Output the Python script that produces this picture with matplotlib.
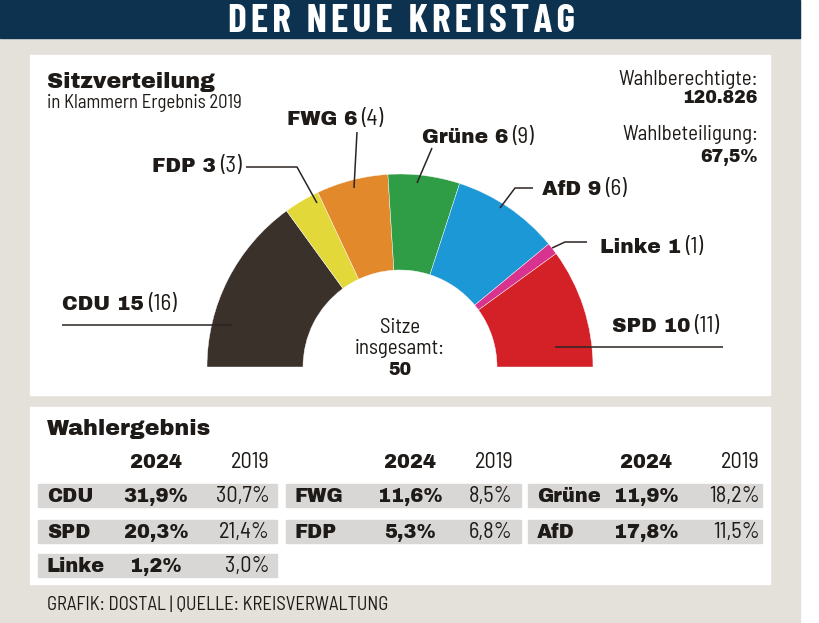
import matplotlib
matplotlib.use("Agg")
import matplotlib.pyplot as plt
from matplotlib.patches import Wedge, Rectangle

# Sitzverteilung (von links nach rechts)
parties = ["CDU", "FDP", "FWG", "Grüne", "AfD", "Linke", "SPD"]
seats_2024 = [15, 3, 6, 6, 9, 1, 10]
seats_2019 = [16, 3, 4, 9, 6, 1, 11]
colors = ["#3b312b", "#e2d83a", "#e2892b", "#2f9d46", "#1b98d5", "#d8338f", "#d42128"]

# Wahlergebnis, drei Spaltengruppen
groups = [["CDU", "SPD", "Linke"], ["FWG", "FDP"], ["Grüne", "AfD"]]
result_2024 = {"CDU": 31.9, "SPD": 20.3, "Linke": 1.2, "FWG": 11.6, "FDP": 5.3, "Grüne": 11.9, "AfD": 17.8}
result_2019 = {"CDU": 30.7, "SPD": 21.4, "Linke": 3.0, "FWG": 8.5, "FDP": 6.8, "Grüne": 18.2, "AfD": 11.5}

eligible = "120.826"
turnout = "67,5%"

HEAVY = dict(family=["Archivo Black", "Lato", "DejaVu Sans"], weight="black")
REG = dict(family=["Barlow Semi Condensed", "PT Sans Narrow", "DejaVu Sans"])
HEAD = dict(family=["Barlow Condensed", "DejaVu Sans"], weight="bold")
INK = "#1e1a17"

W, H = 819, 623
fig = plt.figure(figsize=(W / 100, H / 100), dpi=100)
ax = fig.add_axes([0, 0, 1, 1])
ax.set_xlim(0, W)
ax.set_ylim(H, 0)
ax.axis("off")
renderer = fig.canvas.get_renderer()

# backgrounds
ax.add_patch(Rectangle((0, 0), 800, H, color="#e4e1db", zorder=0))
ax.add_patch(Rectangle((0, 0), 800, 38, color="#0c3250", zorder=1))
ax.add_patch(Rectangle((30, 55), 740, 340, color="white", zorder=1))
ax.add_patch(Rectangle((30, 407), 740, 177, color="white", zorder=1))

title = "\u200a".join("DER NEUE KREISTAG").replace("\u200a \u200a", "  ")
ax.text(401, 32, title, color="white", fontsize=28.5, ha="center", va="baseline", **HEAD)

ax.text(47, 88, "Sitzverteilung", fontsize=16, color=INK, **HEAVY)
ax.text(47, 108, "in Klammern Ergebnis 2019", fontsize=13.5, color=INK, **REG)

ax.text(758, 85, "Wahlberechtigte:", fontsize=15, ha="right", color=INK, **REG)
ax.text(758, 103, eligible, fontsize=12.5, ha="right", color=INK, **HEAVY)
ax.text(758, 140, "Wahlbeteiligung:", fontsize=15, ha="right", color=INK, **REG)
ax.text(758, 162, turnout, fontsize=12.5, ha="right", color=INK, **HEAVY)

# half donut
cx, cy, r_out, width = 400, 367, 193, 96
total = sum(seats_2024)
start = 180.0
for seats, col in zip(seats_2024, colors):
    span = 180.0 * seats / total
    ax.add_patch(Wedge((cx, cy), r_out, start, start + span, width=width,
                       facecolor=col, edgecolor="white", linewidth=0.3, zorder=2))
    start += span

ax.text(cx, 333, "Sitze", ha="center", fontsize=15, color=INK, **REG)
ax.text(cx, 354, "insgesamt:", ha="center", fontsize=15, color=INK, **REG)
ax.text(cx, 375, str(total), ha="center", fontsize=12.5, color=INK, **HEAVY)

# labels with leader lines: (text x, baseline, leader path)
label_layout = {
    "CDU": (62, 310, [(62, 325), (232, 325)]),
    "FDP": (152, 172, [(246, 167), (297, 167), (317, 203)]),
    "FWG": (287, 125, [(357, 132), (354, 188)]),
    "Grüne": (422, 143, [(432, 148), (417, 183)]),
    "AfD": (542, 195, [(533, 188), (515, 188), (500, 208)]),
    "Linke": (600, 253, [(587, 242), (565, 242), (552, 248)]),
    "SPD": (612, 332, [(555, 347), (723, 347)]),
}
for p, s24, s19 in zip(parties, seats_2024, seats_2019):
    x, yb, path = label_layout[p]
    t = ax.text(x, yb, f"{p} {s24}", fontsize=14.5, color=INK, zorder=4, **HEAVY)
    w = t.get_window_extent(renderer).width
    ax.text(x + w + 4, yb, f"({s19})", fontsize=16.5, color=INK, zorder=4, **REG)
    xs, ys = zip(*path)
    ax.plot(xs, ys, color="#2b2522", lw=1.1, zorder=3, solid_capstyle="butt")

# Wahlergebnis table
ax.text(47, 435, "Wahlergebnis", fontsize=16, color=INK, **HEAVY)
band_x = [(38, 277), (286, 521), (528, 762)]
col_2024 = [156, 410, 646]
col_2019 = [270, 513, 760]
row_top = [484, 520, 554]
band_h = 23

def pct(v):
    return f"{v:.1f}%".replace(".", ",")

for g, names in enumerate(groups):
    x0, x1 = band_x[g]
    ax.text(col_2024[g], 468, "2024", ha="center", fontsize=14, color=INK, **HEAVY)
    ax.text(col_2019[g], 468, "2019", ha="right", fontsize=16, color=INK, **REG)
    for i, name in enumerate(names):
        top = row_top[i]
        ax.add_patch(Rectangle((x0, top), x1 - x0, band_h, color="#d8d7d5", zorder=2))
        yb = top + 18
        ax.text(x0 + 9, yb, name, fontsize=14, color=INK, zorder=3, **HEAVY)
        ax.text(col_2024[g], yb, pct(result_2024[name]), ha="center", fontsize=14, color=INK, zorder=3, **HEAVY)
        ax.text(col_2019[g], yb, pct(result_2019[name]), ha="right", fontsize=16, color=INK, zorder=3, **REG)

ax.text(47, 610, "GRAFIK: DOSTAL | QUELLE: KREISVERWALTUNG", fontsize=13.5, color=INK, **REG)

fig.savefig("out.png", dpi=100)
